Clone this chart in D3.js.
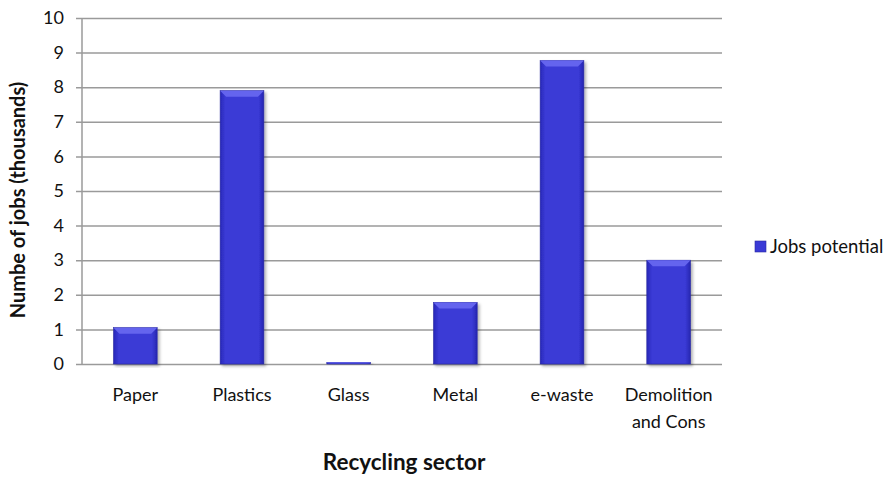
<!DOCTYPE html>
<html>
<head>
<meta charset="utf-8">
<script src="https://cdn.jsdelivr.net/npm/d3@7/dist/d3.min.js"></script>
<style>
  html, body { margin: 0; padding: 0; background: #fff; }
  svg { display: block; }
  text { font-family: Lato, "Open Sans", sans-serif; fill: #111; }
</style>
</head>
<body>
<svg id="chart" width="890" height="477"></svg>
<script>
// Recycling sectors and the number of jobs (thousands) each could create
const categories = [["Paper"], ["Plastics"], ["Glass"], ["Metal"], ["e-waste"], ["Demolition", "and Cons"]];
const jobsPotential = [1.05, 7.9, 0.05, 1.78, 8.77, 3.0];
const yTicks = [0, 1, 2, 3, 4, 5, 6, 7, 8, 9, 10];
const seriesName = "Jobs potential";

const svg = d3.select("#chart");
const margin = { left: 82, right: 168, top: 18, bottom: 113 };
const width = 890, height = 477;
const plotW = width - margin.left - margin.right;
const plotH = height - margin.top - margin.bottom;

const keys = categories.map(c => c.join(" "));
const x = d3.scaleBand().domain(keys).range([0, plotW]).paddingInner(0.59).paddingOuter(0.295);
const y = d3.scaleLinear().domain([0, 10]).range([plotH, 0]);

const defs = svg.append("defs");
const grad = defs.append("linearGradient").attr("id", "barFill").attr("x1", 0).attr("x2", 1).attr("y1", 0).attr("y2", 0);
grad.append("stop").attr("offset", "0%").attr("stop-color", "#2828b8");
grad.append("stop").attr("offset", "12%").attr("stop-color", "#3a3ad6");
grad.append("stop").attr("offset", "88%").attr("stop-color", "#3a3ad6");
grad.append("stop").attr("offset", "100%").attr("stop-color", "#2626b0");
const shadow = defs.append("filter").attr("id", "barShadow").attr("x", "-20%").attr("y", "-5%").attr("width", "150%").attr("height", "115%");
shadow.append("feDropShadow").attr("dx", 2).attr("dy", 2).attr("stdDeviation", 1.5).attr("flood-color", "#000").attr("flood-opacity", 0.3);

const g = svg.append("g").attr("transform", `translate(${margin.left},${margin.top})`);

// Horizontal gridlines with tick marks that extend left of the axis
const yAxis = d3.axisLeft(y).tickValues(yTicks).tickSize(-plotW).tickPadding(18).tickFormat(d3.format("d"));
const yG = g.append("g").call(yAxis);
yG.select(".domain").remove();
yG.selectAll(".tick line").attr("stroke", "#9a9a9a").attr("stroke-width", 1.5).attr("x1", -6);
yG.selectAll(".tick text").attr("font-size", 18).style("fill", "#111");

// Vertical axis line
g.append("line").attr("x1", 0).attr("x2", 0).attr("y1", 0).attr("y2", plotH)
  .attr("stroke", "#9a9a9a").attr("stroke-width", 1.5);

// Category labels
const xG = g.append("g").attr("transform", `translate(0,${plotH})`);
categories.forEach((lines, i) => {
  const cx = x(keys[i]) + x.bandwidth() / 2;
  const t = xG.append("text").attr("x", cx).attr("y", 37)
    .attr("text-anchor", "middle").attr("font-size", 18);
  lines.forEach((ln, j) => t.append("tspan").attr("x", cx).attr("dy", j === 0 ? 0 : 27).text(ln));
});

// Bars with a bevelled top
const bars = g.append("g").selectAll("g").data(jobsPotential).join("g");
bars.append("rect")
  .attr("x", (d, i) => x(keys[i]))
  .attr("y", d => y(d))
  .attr("width", x.bandwidth())
  .attr("height", d => plotH - y(d))
  .attr("fill", "url(#barFill)")
  .attr("stroke", "#2a2aa0").attr("stroke-width", 0.6)
  .attr("filter", "url(#barShadow)");
bars.append("path")
  .attr("d", (d, i) => {
    const x0 = x(keys[i]), x1 = x0 + x.bandwidth(), yt = y(d);
    const bev = Math.min(6, (plotH - yt) / 2);
    return `M${x0},${yt}L${x1},${yt}L${x1 - bev},${yt + bev}L${x0 + bev},${yt + bev}Z`;
  })
  .attr("fill", "#6464ee");

// Axis titles
g.append("text").attr("x", plotW / 2 + 2).attr("y", plotH + 106).attr("text-anchor", "middle")
  .attr("font-size", 22.5).attr("font-weight", "bold").text("Recycling sector");
svg.append("text").attr("transform", `translate(25,${margin.top + plotH / 2 + 9}) rotate(-90)`)
  .attr("text-anchor", "middle").attr("font-size", 20).attr("font-weight", "bold")
  .text("Numbe of jobs (thousands)");

// Legend
const lg = svg.append("g").attr("transform", "translate(755,241)");
lg.append("rect").attr("width", 11).attr("height", 11).attr("fill", "#3a3ad6").attr("stroke", "#2a2aa0").attr("stroke-width", 0.6);
lg.append("text").attr("x", 15).attr("y", 12).attr("font-size", 18.5).text(seriesName);
</script>
</body>
</html>
